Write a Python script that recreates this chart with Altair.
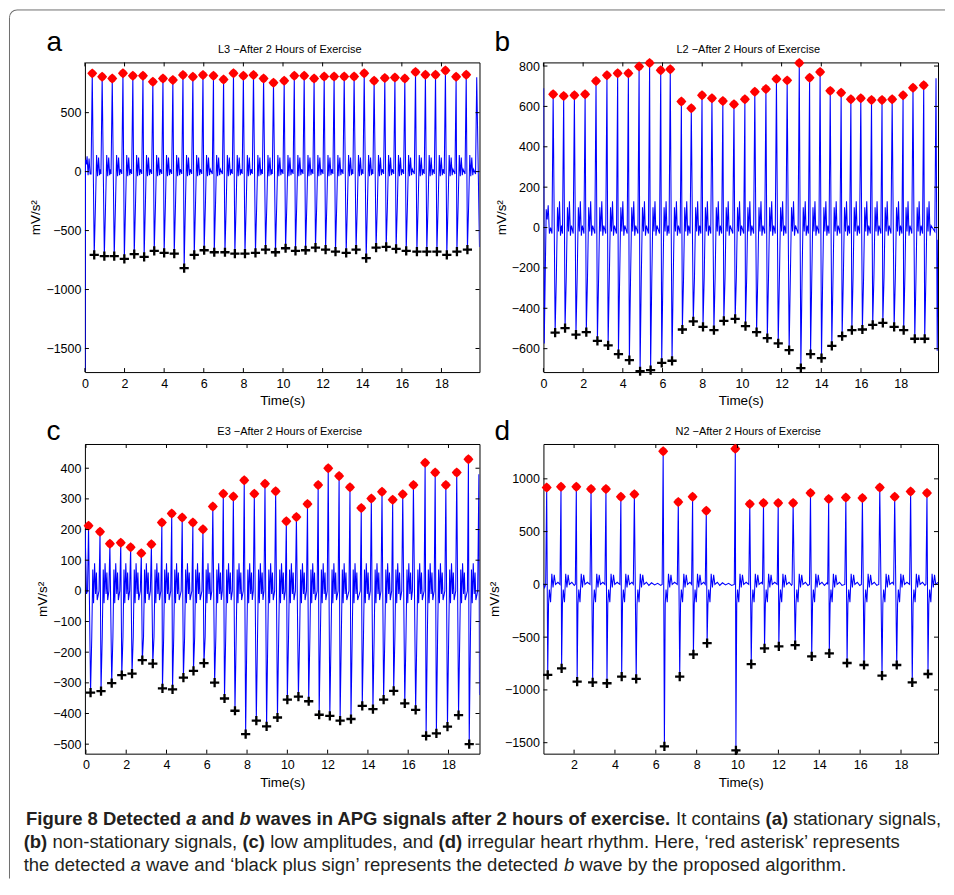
import altair as alt
import pandas as pd

# ---------------- data ----------------
# Panel a : L3
a_peak_t = [0.37, 0.87, 1.38, 1.92, 2.42, 2.93, 3.43, 3.94, 4.44, 4.95, 5.45, 5.96, 6.49, 7.0, 7.5, 8.0, 8.51, 9.02, 9.52,
            10.06, 10.57, 11.07, 11.57, 12.08, 12.58, 13.09, 13.59, 14.1, 14.6, 15.14, 15.65, 16.15, 16.69, 17.19, 17.7,
            18.2, 18.74, 19.25]
a_peak_v = [833, 805, 790, 835, 813, 813, 762, 790, 776, 819, 805, 819, 813, 782, 835, 813, 819, 790, 754, 771, 813, 813,
            790, 807, 807, 807, 807, 835, 771, 793, 799, 790, 844, 821, 821, 858, 805, 821]
a_tr_t = [0.47, 0.98, 1.48, 1.99, 2.49, 2.99, 3.5, 4.0, 4.51, 5.01, 5.52, 6.02, 6.53, 7.07, 7.57, 8.08, 8.61, 9.12, 9.62,
          10.13, 10.63, 11.14, 11.64, 12.15, 12.65, 13.19, 13.69, 14.2, 14.7, 15.21, 15.71, 16.22, 16.76, 17.26, 17.77,
          18.27, 18.78, 19.31]
a_tr_v = [-706, -717, -717, -740, -700, -723, -672, -689, -695, -819, -706, -667, -684, -684, -695, -695, -689, -661, -684,
          -650, -672, -667, -644, -661, -678, -689, -661, -734, -644, -639, -655, -672, -678, -678, -678, -706, -678, -661]
a_start = [(0.01, -1690), (0.03, 100), (0.07, 60), (0.11, 130), (0.16, -30), (0.21, 110), (0.26, -20)]
a_end = [(19.72, -20), (19.78, 800), (19.92, -640)]
a_wig_dt = [0.06, 0.12, 0.17, 0.22, 0.27, 0.31]
a_wig_v = [-300, 140, -40, 120, -30, 20]

# Panel b : L2
b_peak_t = [0.49, 1.02, 1.56, 2.10, 2.65, 3.2, 3.74, 4.28, 4.82, 5.35, 5.91, 6.39, 6.95, 7.45, 7.99, 8.49, 9.04, 9.6,
            10.15, 10.65, 11.21, 11.74, 12.28, 12.89, 13.41, 13.94, 14.45, 15.0, 15.49, 15.99, 16.53, 17.06, 17.57,
            18.12, 18.62, 19.16]
b_peak_v = [660, 652, 655, 660, 726, 754, 764, 764, 798, 815, 779, 784, 624, 591, 655, 640, 627, 611, 635, 673, 686, 736,
            729, 815, 742, 771, 677, 668, 635, 640, 632, 632, 635, 655, 693, 705]
b_tr_t = [0.59, 1.09, 1.64, 2.16, 2.72, 3.26, 3.78, 4.33, 4.87, 5.4, 5.96, 6.48, 7.0, 7.55, 8.04, 8.59, 9.09, 9.66, 10.18,
          10.74, 11.28, 11.83, 12.38, 12.97, 13.46, 14.01, 14.53, 15.05, 15.54, 16.07, 16.59, 17.1, 17.67, 18.15, 18.71,
          19.21]
b_tr_v = [-521, -498, -530, -518, -561, -584, -627, -657, -712, -706, -670, -660, -505, -465, -492, -508, -462, -452, -488,
          -518, -548, -574, -607, -696, -627, -647, -586, -538, -508, -505, -482, -472, -492, -508, -551, -551]
b_start = [(0.01, 690), (0.04, -575), (0.14, 90), (0.19, 40), (0.24, 110), (0.3, -30), (0.36, 0)]
b_end = [(19.72, -20), (19.78, 740), (19.84, -610), (19.88, -60)]
b_wig_dt = [0.06, 0.12, 0.17, 0.22, 0.27, 0.32]
b_wig_v = [-250, 100, -20, 130, -40, 10]

# Panel c : E3
c_peak_t = [0.13, 0.7, 1.19, 1.73, 2.22, 2.75, 3.25, 3.77, 4.26, 4.78, 5.31, 5.81, 6.3, 6.82, 7.32, 7.86, 8.36, 8.89, 9.42,
            9.95, 10.45, 11.0, 11.53, 12.03, 12.57, 13.11, 13.67, 14.17, 14.7, 15.23, 15.73, 16.26, 16.84, 17.34, 17.87,
            18.41, 18.99]
c_peak_v = [212, 193, 154, 157, 142, 123, 152, 223, 252, 239, 223, 201, 275, 317, 308, 361, 317, 349, 325, 227, 241, 283,
            345, 400, 375, 338, 270, 301, 323, 297, 315, 345, 418, 386, 345, 386, 429]
c_tr_t = [0.23, 0.75, 1.28, 1.78, 2.29, 2.8, 3.32, 3.8, 4.3, 4.84, 5.34, 5.86, 6.39, 6.88, 7.4, 7.93, 8.46, 8.97, 9.51,
          10.0, 10.55, 11.06, 11.58, 12.11, 12.62, 13.16, 13.72, 14.25, 14.78, 15.28, 15.83, 16.37, 16.89, 17.4, 17.95,
          18.5, 19.03]
c_tr_v = [-332, -327, -301, -275, -270, -226, -237, -318, -321, -283, -261, -236, -299, -351, -391, -467, -423, -442, -413,
          -355, -345, -360, -404, -408, -423, -418, -375, -386, -355, -326, -367, -388, -473, -465, -443, -405, -500]
c_start = [(-0.04, 200), (0.03, -10)]
c_end = [(19.45, 0), (19.51, 380), (19.54, -340)]
c_wig_dt = [0.06, 0.11, 0.15, 0.2, 0.25, 0.29, 0.33]
c_wig_v = [-150, 70, -40, 90, -10, 60, -30]

# Panel d : N2
d_peak_t = [0.66, 1.36, 2.11, 2.83, 3.56, 4.29, 4.95, 6.36, 7.1, 7.8, 8.47, 9.89, 10.6, 11.27, 11.99, 12.72, 13.57, 14.46,
            15.3, 16.11, 16.96, 17.69, 18.47, 19.27]
d_peak_v = [918, 925, 925, 903, 903, 830, 855, 1261, 780, 830, 698, 1286, 761, 770, 770, 770, 865, 808, 824, 818, 918,
            830, 881, 865]
d_tr_t = [0.71, 1.39, 2.15, 2.91, 3.61, 4.33, 5.04, 6.42, 7.17, 7.84, 8.51, 9.92, 10.67, 11.32, 12.02, 12.82, 13.63,
          14.49, 15.36, 16.19, 17.07, 17.79, 18.55, 19.32]
d_tr_v = [-858, -796, -921, -928, -937, -874, -896, -1535, -874, -664, -557, -1572, -755, -607, -588, -575, -682, -654,
          -745, -764, -865, -764, -928, -849]
d_start = [(0.5, 10), (0.56, -30)]
d_end = [(19.81, 20)]
d_wig_dt = [0.04, 0.08, 0.14, 0.2, 0.26, 0.32, 0.38, 0.5, 0.62, 0.75, 0.9, 1.05, 1.2]
d_wig_v = [-190, -50, -170, 100, -30, 90, 0, 20, -10, 15, -5, 10, -10]

titles = ["L3 \u2212After 2 Hours of Exercise", "L2 \u2212After 2 Hours of Exercise",
          "E3 \u2212After 2 Hours of Exercise", "N2 \u2212After 2 Hours of Exercise"]
letters = ["a", "b", "c", "d"]

x_ticks_full = [0, 2, 4, 6, 8, 10, 12, 14, 16, 18]
x_ticks_d = [2, 4, 6, 8, 10, 12, 14, 16, 18]
a_yticks = [-1500, -1000, -500, 0, 500]
b_yticks = [-600, -400, -200, 0, 200, 400, 600, 800]
c_yticks = [-500, -400, -300, -200, -100, 0, 100, 200, 300, 400]
d_yticks = [-1500, -1000, -500, 0, 500, 1000]

a_xdom, a_ydom = [0, 19.92], [-1700, 926]
b_xdom, b_ydom = [0, 19.88], [-716, 818]
c_xdom, c_ydom = [-0.05, 19.54], [-531, 479]
d_xdom, d_ydom = [0.5, 19.81], [-1604, 1330]

# caption: runs of (text, bold, italic) per line
cap_lines = [
    [("Figure 8 Detected", True, False), ("a", True, True), ("and", True, False), ("b", True, True),
     ("waves in APG signals after 2 hours of exercise.", True, False), ("It contains", False, False),
     ("(a)", True, False), ("stationary signals,", False, False)],
    [("(b)", True, False), ("non-stationary signals,", False, False), ("(c)", True, False),
     ("low amplitudes, and", False, False), ("(d)", True, False),
     ("irregular heart rhythm. Here, \u2018red asterisk\u2019 represents", False, False)],
    [("the detected", False, False), ("a", False, True),
     ("wave and \u2018black plus sign\u2019 represents the detected", False, False), ("b", False, True),
     ("wave by the proposed algorithm.", False, False)],
]
cap_line_x0 = [25, 22.7, 22.7]
CAP_BASELINES = [824, 847, 870]

# ---------------- layout constants ----------------
W, H = 395, 310
ORIGIN_X, ORIGIN_Y = 84, 61          # page position of panel a plot area
ROW_GAP, COL_GAP = 72, 64
CAP_Y0 = ORIGIN_Y + 2 * H + 2 * ROW_GAP
CAP_FS = 18.5

DIAMOND = "M0,-1L0.55,-0.55L1,0L0.55,0.55L0,1L-0.55,0.55L-1,0L-0.55,-0.55Z"
PLUS = "M-1,0L1,0M0,-1L0,1"
AX_FONT = "Liberation Sans"
CAP_FONT = "Liberation Sans"

# Liberation Sans (Arial-compatible) advance widths, 1/1000 em, used to flow the caption runs
_REG = {' ': 278, 'a': 556, 'b': 556, 'c': 500, 'd': 556, 'e': 556, 'f': 278, 'g': 556, 'h': 556, 'i': 222,
        'j': 222, 'k': 500, 'l': 222, 'm': 833, 'n': 556, 'o': 556, 'p': 556, 'q': 556, 'r': 333, 's': 500,
        't': 278, 'u': 556, 'v': 500, 'w': 722, 'x': 500, 'y': 500, 'z': 500, 'A': 667, 'D': 722, 'F': 611,
        'G': 778, 'H': 722, 'I': 278, 'P': 667, ',': 278, '.': 278, '-': 333, '(': 333, ')': 333,
        '\u2018': 222, '\u2019': 222}
_BOLD = {' ': 278, 'a': 556, 'b': 611, 'c': 556, 'd': 611, 'e': 556, 'f': 333, 'g': 611, 'h': 611, 'i': 278,
         'k': 556, 'l': 278, 'm': 889, 'n': 611, 'o': 611, 'p': 611, 'r': 389, 's': 556, 't': 333, 'u': 611,
         'v': 556, 'w': 778, 'x': 556, 'y': 556, 'A': 722, 'D': 722, 'F': 611, 'G': 778, 'H': 722, 'I': 278,
         'P': 667, ',': 278, '.': 278, '-': 333, '(': 333, ')': 333}


def text_width(s, bold):
    tbl = _BOLD if bold else _REG
    return sum(tbl.get(ch, 556) for ch in s) / 1000.0 * CAP_FS


def build_signal(start, pt, pv, tt, tv, wdt, wv, end, pre_dt=0.06, pre_v=-20):
    pts = list(start)
    n = len(pt)
    for i in range(n):
        pts.append((pt[i] - pre_dt, pre_v))
        pts.append((pt[i], pv[i]))
        pts.append((tt[i], tv[i]))
        nxt = pt[i + 1] - pre_dt if i + 1 < n else end[0][0]
        for dt, v in zip(wdt, wv):
            if tt[i] + dt < nxt - 0.02:
                pts.append((tt[i] + dt, v))
    pts.extend(end)
    return pd.DataFrame({"i": range(len(pts)), "t": [p[0] for p in pts], "v": [p[1] for p in pts]})


def panel(letter, title, line_df, pt, pv, tt, tv, xdom, ydom, xticks, yticks, lx, ly):
    xs = alt.Scale(domain=xdom, nice=False, zero=False)
    ys = alt.Scale(domain=ydom, nice=False, zero=False)
    xax = alt.Axis(values=xticks, title="Time(s)", format="d")
    yax = alt.Axis(values=yticks, title="mV/s\u00b2", format="d")
    X = alt.X("t:Q", scale=xs, axis=xax)
    Y = alt.Y("v:Q", scale=ys, axis=yax)
    line = alt.Chart(line_df).mark_line(color="#0000ff", strokeWidth=1.05, clip=True).encode(
        x=X, y=Y, order="i:Q")
    pk = alt.Chart(pd.DataFrame({"t": pt, "v": pv})).mark_point(
        shape=DIAMOND, filled=True, color="#ff0000", size=100, opacity=1).encode(x=X, y=Y)
    tr = alt.Chart(pd.DataFrame({"t": tt, "v": tv})).mark_point(
        shape=PLUS, filled=False, color="black", size=85, opacity=1, strokeWidth=2.3).encode(x=X, y=Y)
    ytk = pd.DataFrame({"v": yticks})
    xtk = pd.DataFrame({"t": xticks})
    tl = alt.Chart(ytk).mark_rule(color="black", strokeWidth=1).encode(
        y=Y, x=alt.value(0), x2=alt.value(4))
    trr = alt.Chart(ytk).mark_rule(color="black", strokeWidth=1).encode(
        y=Y, x=alt.value(W - 4), x2=alt.value(W))
    tb = alt.Chart(xtk).mark_rule(color="black", strokeWidth=1).encode(
        x=X, y=alt.value(H - 4), y2=alt.value(H))
    tt_ = alt.Chart(xtk).mark_rule(color="black", strokeWidth=1).encode(
        x=X, y=alt.value(0), y2=alt.value(4))
    one = pd.DataFrame({"k": [0]})
    let = alt.Chart(one).mark_text(text=letter, font=AX_FONT, fontSize=28, align="left",
                                   baseline="alphabetic", color="black").encode(
        x=alt.value(lx), y=alt.value(ly))
    ttl = alt.Chart(one).mark_text(text=title, font=AX_FONT, fontSize=11, align="center",
                                   baseline="alphabetic", color="black").encode(
        x=alt.value(205), y=alt.value(-9))
    return alt.layer(line, pk, tr, tl, trr, tb, tt_, let, ttl).properties(width=W, height=H)


sig_a = build_signal(a_start, a_peak_t, a_peak_v, a_tr_t, a_tr_v, a_wig_dt, a_wig_v, a_end)
sig_b = build_signal(b_start, b_peak_t, b_peak_v, b_tr_t, b_tr_v, b_wig_dt, b_wig_v, b_end, pre_v=-30)
sig_c = build_signal(c_start, c_peak_t, c_peak_v, c_tr_t, c_tr_v, c_wig_dt, c_wig_v, c_end, pre_dt=0.05, pre_v=0)
sig_d = build_signal(d_start, d_peak_t, d_peak_v, d_tr_t, d_tr_v, d_wig_dt, d_wig_v, d_end, pre_dt=0.05, pre_v=0)

pa = panel("a", titles[0], sig_a, a_peak_t, a_peak_v, a_tr_t, a_tr_v, a_xdom, a_ydom, x_ticks_full, a_yticks, -38.5, -11)
pb = panel("b", titles[1], sig_b, b_peak_t, b_peak_v, b_tr_t, b_tr_v, b_xdom, b_ydom, x_ticks_full, b_yticks, -49, -11)
pc = panel("c", titles[2], sig_c, c_peak_t, c_peak_v, c_tr_t, c_tr_v, c_xdom, c_ydom, x_ticks_full, c_yticks, -38.5, -4)
pd_ = panel("d", titles[3], sig_d, d_peak_t, d_peak_v, d_tr_t, d_tr_v, d_xdom, d_ydom, x_ticks_d, d_yticks, -49, -4)

# caption + outer frame
one = pd.DataFrame({"k": [0]})
cap_layers = []
for ln, runs in enumerate(cap_lines):
    x = cap_line_x0[ln]
    for txt, bold, ital in runs:
        cap_layers.append(
            alt.Chart(one).mark_text(text=txt, font=CAP_FONT, fontSize=CAP_FS,
                                     fontWeight="bold" if bold else "normal",
                                     fontStyle="italic" if ital else "normal",
                                     align="left", baseline="alphabetic", color="#231f20").encode(
                x=alt.value(x - ORIGIN_X), y=alt.value(CAP_BASELINES[ln] - CAP_Y0)))
        x += text_width(txt + " ", bold)

FX0 = 8 - ORIGIN_X
FY0 = 8 - CAP_Y0
frame_col = "#6e6e6e"
cap_layers.append(alt.Chart(one).mark_rule(color=frame_col, strokeWidth=1).encode(
    x=alt.value(FX0 + 0.5), y=alt.value(FY0 + 8), y2=alt.value(878 - CAP_Y0)))
cap_layers.append(alt.Chart(one).mark_rule(color=frame_col, strokeWidth=1).encode(
    x=alt.value(FX0 + 8), x2=alt.value(945 - ORIGIN_X), y=alt.value(FY0 + 0.5)))
cap_layers.append(alt.Chart(one).mark_arc(theta=4.712389, theta2=6.283185, radius=8, radius2=7,
                                          color=frame_col).encode(
    x=alt.value(FX0 + 8), y=alt.value(FY0 + 8)))
cap = alt.layer(*cap_layers).properties(width=W, height=40,
                                        view=alt.ViewBackground(stroke="transparent"))

chart = alt.concat(pa, pb, pc, pd_, cap, columns=2, spacing={"row": ROW_GAP, "column": COL_GAP},
                   bounds="flush").properties(padding=0).configure_view(
    stroke="black", strokeWidth=1).configure_axis(
    labelFont=AX_FONT, labelFontSize=12.5, labelColor="black", titleFont=AX_FONT, titleFontSize=13.5,
    titleFontWeight="normal", titleColor="black", ticks=False, domain=False, grid=False,
    labelFlush=False, labelOverlap=False, labelPadding=4, titlePadding=3).configure_axisX(
    labelPadding=5, titlePadding=4)

chart.save("out.html", embed_options={"renderer": "svg", "actions": False})
